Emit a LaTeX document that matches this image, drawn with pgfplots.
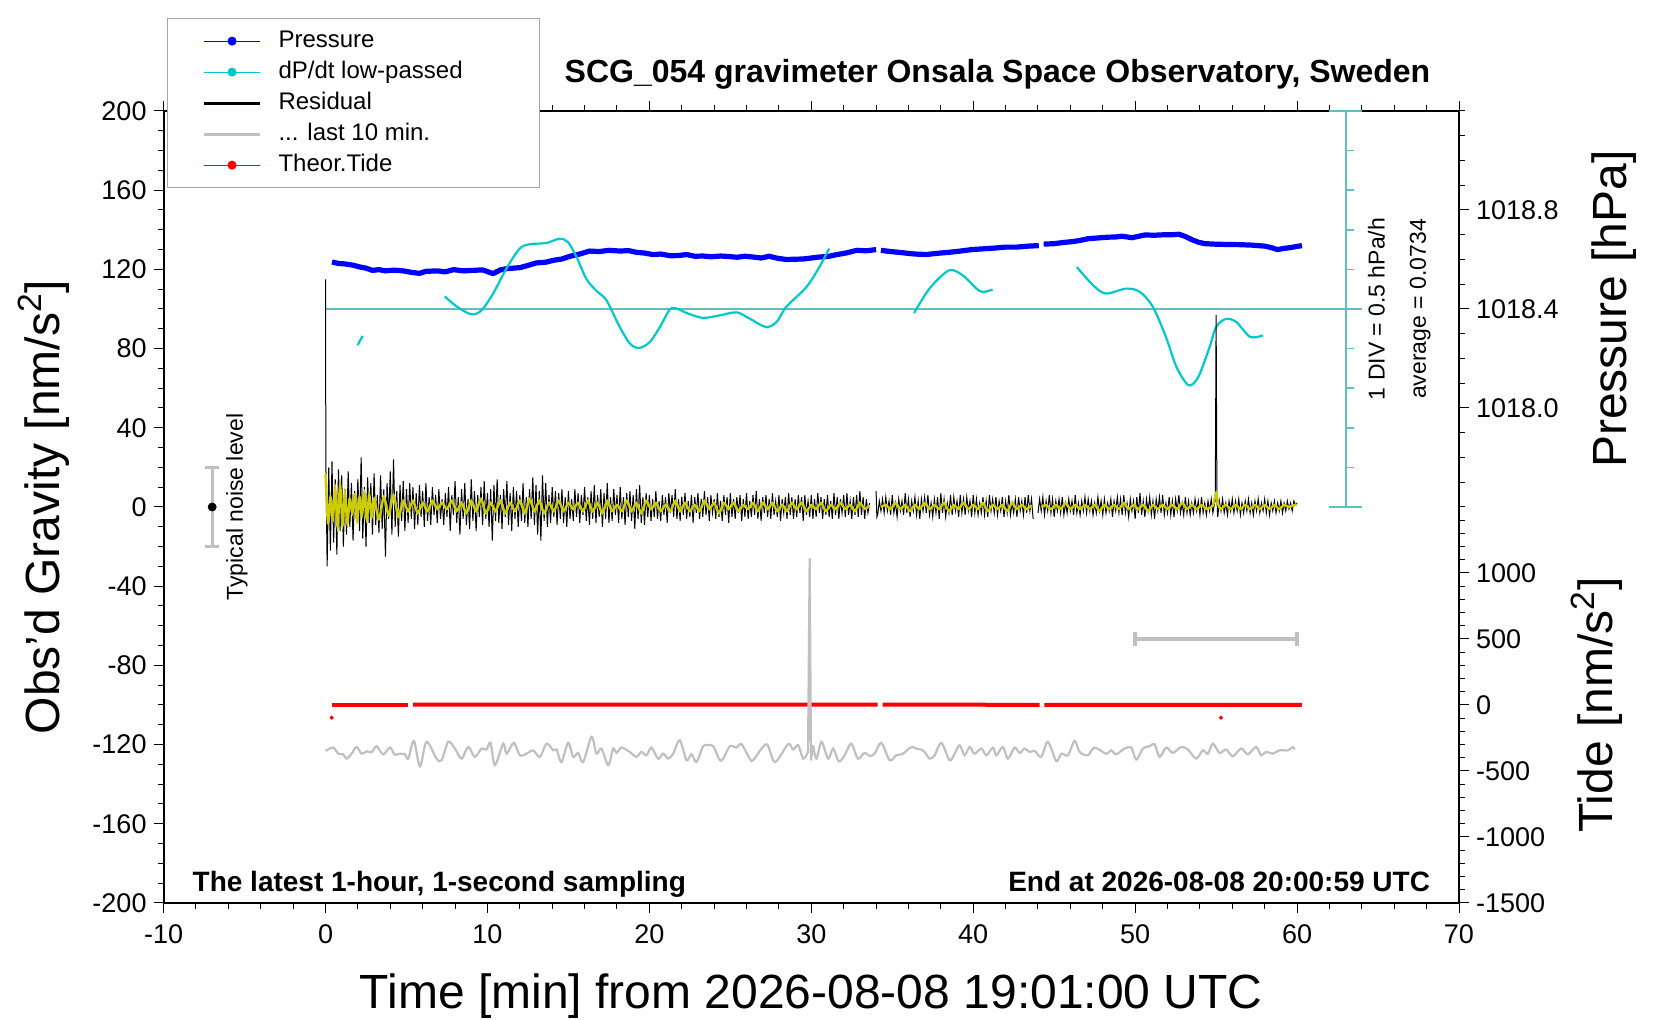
\documentclass[border=0pt]{standalone}
\usepackage{fontspec}
\setmainfont{Liberation Sans}
\usepackage{pgfplots}
\pgfplotsset{compat=1.18}
\definecolor{cyanc}{RGB}{0,200,200}
\definecolor{cyanaxis}{RGB}{100,190,190}
\definecolor{yel}{RGB}{204,204,0}
\definecolor{greyc}{RGB}{192,192,192}
\pgfplotsset{
  base/.style={
    scale only axis, width=647.7pt, height=396pt, at={(0,0)}, anchor=south west,
    xmin=-10, xmax=70,
    tick align=outside, major tick length=5pt, minor tick length=3pt,
    every tick/.append style={black, line width=0.5pt},
    axis line style={line width=1pt},
    /pgf/number format/assume math mode=true,
    tick label style={font=\fontsize{13.5}{16}\selectfont},
  }
}
\begin{document}
\begin{tikzpicture}
\useasboundingbox (-81.8pt,-58.5pt) rectangle (748.2pt,451.5pt);

% ---------- pressure axis (right, upper half) ----------
\begin{axis}[base, ymin=1016.0, ymax=1019.2, axis x line=none, axis y line*=right,
  ytick={1018.0,1018.4,1018.8},
  minor ytick={1017.6,1017.7,1017.8,1017.9,1018.1,1018.2,1018.3,1018.5,1018.6,1018.7,1018.9,1019.0,1019.1,1019.2},
  y tick label style={/pgf/number format/.cd, fixed, fixed zerofill, precision=1, 1000 sep={}}]
\addplot[blue, line width=2.6pt, line join=round] coordinates {
(0.4,1018.590)(0.8,1018.584)(1.2,1018.582)(1.7,1018.577)(2.1,1018.570)(2.5,1018.565)(2.9,1018.556)(3.3,1018.559)(3.7,1018.554)(4.2,1018.557)
(4.8,1018.554)(5.3,1018.548)(5.8,1018.544)(6.2,1018.552)(6.9,1018.554)(7.4,1018.550)(7.9,1018.559)(8.5,1018.554)(9.1,1018.556)(9.7,1018.558)
(10.35,1018.543)(10.8,1018.558)(11.2,1018.563)(12.0,1018.567)(12.5,1018.576)(13.0,1018.586)(13.6,1018.589)(14.1,1018.597)(14.6,1018.602)(15.1,1018.613)
(15.7,1018.622)(16.3,1018.634)(16.9,1018.632)(17.5,1018.637)(18.2,1018.634)(18.7,1018.636)(19.2,1018.629)(19.7,1018.626)(20.2,1018.620)(20.7,1018.622)
(21.3,1018.615)(21.8,1018.616)(22.3,1018.620)(22.8,1018.613)(23.3,1018.614)(23.8,1018.611)(24.4,1018.614)(24.9,1018.612)(25.4,1018.609)(25.9,1018.613)
(26.4,1018.610)(26.9,1018.606)(27.4,1018.613)(27.9,1018.605)(28.45,1018.600)(29.0,1018.601)(29.5,1018.602)(30.0,1018.606)(30.5,1018.610)(31.0,1018.612)
(31.6,1018.620)(32.2,1018.627)(32.8,1018.637)(33.4,1018.635)(34.0,1018.640)};
\addplot[blue, line width=2.6pt, line join=round] coordinates {
(34.3,1018.637)(34.9,1018.632)(35.4,1018.629)(35.8,1018.626)(36.4,1018.622)(37.1,1018.620)(37.8,1018.625)(38.5,1018.629)(39.2,1018.634)(39.9,1018.640)
(40.6,1018.643)(41.3,1018.646)(42.0,1018.650)(42.7,1018.650)(43.4,1018.654)(44.05,1018.656)};
\addplot[blue, line width=2.6pt, line join=round] coordinates {
(44.35,1018.662)(45.0,1018.664)(45.6,1018.669)(46.1,1018.672)(46.6,1018.677)(47.1,1018.684)(47.7,1018.687)(48.3,1018.690)(48.8,1018.691)(49.2,1018.694)
(49.8,1018.688)(50.6,1018.699)(51.2,1018.698)(51.8,1018.700)(52.3,1018.700)(52.7,1018.702)(53.1,1018.693)(53.5,1018.680)(53.9,1018.670)(54.3,1018.664)
(54.9,1018.662)(55.5,1018.661)(56.4,1018.660)(57.2,1018.658)(58.0,1018.654)(58.4,1018.648)(58.8,1018.640)(59.2,1018.645)(59.6,1018.648)(60.0,1018.653)(60.3,1018.656)};
\end{axis}

% ---------- tide axis (right, lower half) ----------
\begin{axis}[base, ymin=-1500, ymax=4500, axis x line=none, axis y line*=right,
  ytick={-1500,-1000,-500,0,500,1000},
  minor ytick={-1400,-1300,...,1500},
  y tick label style={/pgf/number format/1000 sep={}}]
\addplot[red, line width=2pt] coordinates {(0.38,3)(2.5,3)(5.1,3)};
\addplot[red, line width=2pt] coordinates {(5.4,3)(15,3)(25,2)(34.1,2)};
\addplot[red, line width=2pt] coordinates {(34.4,2)(40,2)(44.1,1)};
\addplot[red, line width=2pt] coordinates {(44.4,1)(52,1)(60.3,0)};
\addplot[red, only marks, mark=*, mark size=0.8pt] coordinates {(0.38,-96)(55.3,-96)};
\addplot[greyc, line width=2pt, mark=|, mark size=3.5pt, mark options={line width=2pt}] coordinates {(50,500)(60,500)};
\end{axis}

% ---------- main gravity axis ----------
\begin{axis}[base, ymin=-200, ymax=200, clip=false,
  xtick={-10,0,...,70}, minor x tick num=4,
  ytick={-200,-160,...,200}, minor y tick num=3,
  xtick pos=both, xticklabel pos=bottom, ytick pos=left,
  x tick label style={yshift=-2.5pt},
  legend cell align=left,
  legend image code/.code={\draw[mark repeat=2,mark phase=2,#1] plot coordinates {(0pt,0pt) (14pt,0pt) (28pt,0pt)};},
  legend style={at={(axis description cs:0.0026,1.1174)}, anchor=north west,
    draw=gray!70, line width=0.6pt, fill=white,
    font=\fontsize{12}{14}\selectfont,
    inner xsep=17.5pt, inner ysep=3.5pt, row sep=0pt,
    nodes={inner sep=2.5pt, text height=8.3pt, text depth=2.2pt},
    /tikz/every odd column/.append style={column sep=6pt}},
]
% dP/dt scale
\addplot[cyanaxis, line width=1pt, forget plot] coordinates {(63,0)(63,200)};
\addplot[cyanaxis, line width=1pt, forget plot] coordinates {(0,100)(64,100)};
\addplot[cyanaxis, line width=1pt, forget plot] coordinates {(62,200)(64,200)};
\addplot[cyanaxis, line width=1pt, forget plot] coordinates {(62,0)(64,0)};
\addplot[cyanaxis, only marks, mark=-, mark size=2pt, mark options={line width=0.8pt}, forget plot] coordinates {
(63.25,20)(63.25,40)(63.25,60)(63.25,80)(63.25,120)(63.25,140)(63.25,160)(63.25,180)};
% dP/dt low-passed
\addplot[cyanc, line width=1.1pt, smooth, forget plot] coordinates {(1.98,81.7)(2.29,86.4)};
\addplot[cyanc, line width=1.1pt, smooth, forget plot] coordinates {
(7.36,106.4)(8.08,101.4)(9.0,97.3)(9.63,99.3)(10.35,107.8)(11.17,120.4)(11.99,130.5)(12.6,132.7)(13.63,133.3)(14.45,135.5)
(14.97,133.8)(15.5,126.3)(16.1,115.3)(16.7,109.4)(17.35,104.4)(18.17,90.9)(18.8,82.5)(19.37,80.3)(20.03,83.3)(20.65,90.9)
(21.26,99.7)(21.7,100.2)(22.3,98)(23.3,95.5)(24.35,96.8)(25.4,98.3)(26.2,95.1)(27.2,90.9)(27.85,93.4)(28.45,101)
(29.7,111.1)(30.5,121.2)(31.1,130.5)};
\addplot[cyanc, line width=1.1pt, smooth, forget plot] coordinates {
(36.35,98)(37.3,110.3)(38.5,119.5)(39.35,117)(40.2,110.3)(40.6,108.6)(41.2,109.8)};
\addplot[cyanc, line width=1.1pt, smooth, forget plot] coordinates {
(46.4,121.2)(47.4,112)(48.2,107.8)(49.45,110.3)(50.3,108.6)(51.1,101)(51.9,85.9)(52.55,70.7)(53.3,61.5)(53.9,65.7)
(54.6,80.8)(55.0,90.9)(55.6,95)(56.25,93.4)(57.1,85.9)(57.9,86.7)};
% last 10 min (grey)
\addplot[greyc, line width=1.1pt, smooth, forget plot] coordinates {
(0.0,-123.2)(0.48,-121.5)(0.79,-124.6)(1.09,-124.9)(1.30,-127.1)(1.61,-124.6)(1.92,-121.2)(2.23,-124.6)(2.54,-123.4)(2.84,-123.9)
(3.15,-120.8)(3.56,-124.9)(3.98,-121.5)(4.28,-125.1)(4.59,-124.6)(4.90,-124.9)(5.11,-127.1)(5.46,-118.1)(5.83,-130.9)(6.24,-118.6)
(6.86,-127.1)(7.17,-127.9)(7.58,-118.6)(7.99,-122.0)(8.40,-127.1)(8.81,-121.2)(9.22,-126.2)(9.64,-122.0)(9.94,-122.5)(10.19,-119.0)
(10.46,-130.4)(10.97,-119.5)(11.18,-124.6)(11.63,-119.1)(12.00,-125.4)(12.41,-124.6)(12.82,-122.9)(13.24,-126.2)(13.65,-119.5)(14.06,-122.9)
(14.27,-122.5)(14.57,-128.8)(14.99,-119.1)(15.29,-126.2)(15.60,-124.2)(15.91,-128.8)(16.43,-116.1)(16.73,-124.6)(17.04,-122.0)(17.46,-130.4)
(17.76,-122.0)(17.97,-124.2)(18.28,-121.5)(18.79,-123.7)(19.20,-126.2)(19.51,-123.7)(19.82,-125.4)(20.13,-121.5)(20.54,-127.1)(20.85,-124.6)
(21.16,-127.1)(21.47,-124.6)(21.88,-117.8)(22.29,-127.9)(22.60,-124.9)(22.91,-128.8)(23.32,-120.8)(23.63,-120.3)(23.94,-120.8)(24.35,-127.9)
(24.56,-127.1)(24.97,-120.8)(25.38,-121.5)(25.69,-119.8)(26.20,-127.1)(26.41,-127.9)(27.23,-119.8)(27.75,-128.8)(28.57,-119.8)(28.88,-122.5)
(29.19,-120.3)(29.50,-127.1)(29.80,-123.7)};
\addplot[greyc, line width=1.1pt, forget plot] coordinates {(29.80,-123.7)(29.9,-26)(29.98,-128)(30.11,-120.3)};
\addplot[greyc, line width=1.1pt, smooth, forget plot] coordinates {
(30.11,-120.3)(30.32,-127.1)(30.63,-118.6)(31.04,-127.1)(31.35,-122.0)(31.70,-128.5)(32.06,-125.4)(32.47,-119.5)(32.88,-127.1)(33.29,-124.2)
(33.60,-125.8)(33.91,-124.6)(34.32,-119.1)(34.84,-127.9)(35.25,-125.4)(35.66,-124.6)(36.17,-121.2)(36.48,-122.0)(36.79,-122.5)(37.00,-123.7)
(37.31,-127.1)(37.62,-125.4)(38.03,-119.1)(38.54,-127.9)(38.85,-124.6)(39.16,-120.3)(39.47,-125.4)(39.78,-121.2)(40.08,-124.6)(40.50,-122.0)
(40.81,-125.4)(41.22,-121.5)(41.42,-125.4)(41.83,-121.2)(42.14,-127.1)(42.55,-121.5)(42.86,-124.2)(43.17,-122.0)(43.48,-123.7)(43.79,-123.2)
(44.20,-126.2)(44.61,-118.6)(45.13,-128.3)(45.44,-124.6)(45.85,-125.4)(46.26,-118.1)(46.57,-123.7)(47.08,-125.4)(47.49,-121.5)(48.21,-124.6)
(48.52,-122.9)(48.83,-124.9)(49.35,-122.0)(49.76,-121.5)(50.07,-127.6)(50.48,-122.0)(50.89,-120.8)(51.20,-119.8)(51.51,-126.2)(51.92,-121.5)
(52.33,-124.2)(52.84,-121.2)(53.26,-122.5)(53.77,-127.1)(54.18,-122.9)(54.49,-124.6)(54.80,-119.5)(55.21,-124.2)(55.62,-122.5)(56.03,-125.9)
(56.55,-122.0)(56.96,-124.9)(57.47,-121.2)(57.78,-125.4)(58.09,-123.7)(58.50,-124.6)(58.91,-122.9)(59.43,-122.9)(59.74,-121.2)(59.84,-122.5)};
% residual (black)
\addplot[black, line width=0.5pt, forget plot] coordinates {
(0,115)(0.02,24)(0.1,-30)(0.2,20)(0.3,-22)(0.4,23)(0.5,-18)(0.6,14)(0.7,-24)(0.8,19)(0.9,-12)
(1.0,16)(1.1,-20)(1.2,9)(1.3,-14)(1.4,18)(1.5,-10)(1.6,12)(1.7,-17)(1.8,8)(1.9,-6)
(2.0,14)(2.1,-12)(2.2,25)(2.3,-16)(2.4,10)(2.5,-20)(2.6,15)(2.7,-8)(2.8,12)(2.9,-14)
(3.0,17)(3.1,-9)(3.2,6)(3.3,-13)(3.4,16)(3.5,-11)(3.6,9)(3.7,-25)(3.8,12)(3.9,-6)
(4.0,18)(4.1,-14)(4.2,24)(4.3,-10)(4.4,8)(4.5,-15)(4.6,11)(4.7,-7)(4.8,13)(4.9,-12)
(5.0,9)(5.1,-8)(5.2,12)(5.3,-6)(5.4,10)(5.5,-11)(5.6,7)(5.7,-9)(5.8,11)(5.9,-5)
(6.0,8)(6.1,-10)(6.2,12)(6.3,-7)(6.4,5)(6.5,-9)(6.6,10)(6.7,-4)(6.8,6)(6.9,-8)
(7.0,9)(7.1,-6)(7.2,4)(7.3,-9)(7.4,7)(7.5,-5)(7.6,10)(7.7,-12)(7.8,6)(7.9,-4)
(8.0,13)(8.1,-8)(8.2,5)(8.3,-14)(8.4,9)(8.5,-6)(8.6,12)(8.7,-9)(8.8,4)(8.9,-11)
(9.0,14)(9.1,-7)(9.2,8)(9.3,-12)(9.4,6)(9.5,-5)(9.6,10)(9.7,-9)(9.8,13)(9.9,-6)
(10.0,7)(10.1,-10)(10.2,9)(10.3,-17)(10.4,11)(10.5,-7)(10.6,14)(10.7,-8)(10.8,6)(10.9,-11)
(11.0,9)(11.1,-5)(11.2,13)(11.3,-9)(11.4,7)(11.5,-12)(11.6,10)(11.7,-6)(11.8,8)(11.9,-10)
(12.0,6)(12.1,-7)(12.2,12)(12.3,-8)(12.4,5)(12.5,-10)(12.6,9)(12.7,-6)(12.8,15)(12.9,-9)
(13.0,11)(13.1,-14)(13.2,8)(13.3,-17)(13.4,16)(13.5,-7)(13.6,12)(13.7,-10)(13.8,6)(13.9,-8)
(14.0,10)(14.1,-5)(14.2,8)(14.3,-9)(14.4,7)(14.5,-6)(14.6,9)(14.7,-8)(14.8,5)(14.9,-10)
(15.0,8)(15.1,-6)(15.2,4)(15.3,-7)(15.4,9)(15.5,-5)(15.6,7)(15.7,-8)(15.8,6)(15.9,-4)
(16.0,10)(16.1,-7)(16.2,5)(16.3,-9)(16.4,8)(16.5,-6)(16.6,11)(16.7,-8)(16.8,6)(16.9,-5)
(17.0,9)(17.1,-10)(17.2,7)(17.3,-6)(17.4,12)(17.5,-8)(17.6,5)(17.7,-7)(17.8,9)(17.9,-4)
(18.0,6)(18.1,-8)(18.2,10)(18.3,-6)(18.4,5)(18.5,-9)(18.6,7)(18.7,-5)(18.8,8)(18.9,-7)
(19.0,6)(19.1,-11)(19.2,9)(19.3,-6)(19.4,11)(19.5,-8)(19.6,5)(19.7,-9)(19.8,7)(19.9,-5)
(20.0,6)(20.1,-7)(20.2,4)(20.3,-5)(20.4,8)(20.5,-6)(20.6,3)(20.7,-7)(20.8,6)(20.9,-4)
(21.0,5)(21.1,-8)(21.2,7)(21.3,-3)(21.4,6)(21.5,-5)(21.6,9)(21.7,-6)(21.8,4)(21.9,-7)
(22.0,5)(22.1,-4)(22.2,7)(22.3,-6)(22.4,3)(22.5,-5)(22.6,6)(22.7,-8)(22.8,5)(22.9,-3)
(23.0,7)(23.1,-6)(23.2,4)(23.3,-5)(23.4,8)(23.5,-4)(23.6,5)(23.7,-7)(23.8,6)(23.9,-3)
(24.0,4)(24.1,-6)(24.2,7)(24.3,-5)(24.4,3)(24.5,-7)(24.6,6)(24.7,-4)(24.8,5)(24.9,-8)
(25.0,7)(25.1,-5)(25.2,4)(25.3,-6)(25.4,5)(25.5,-3)(25.6,6)(25.7,-7)(25.8,4)(25.9,-5)
(26.0,7)(26.1,-6)(26.2,3)(26.3,-5)(26.4,6)(26.5,-4)(26.6,8)(26.7,-6)(26.8,4)(26.9,-7)
(27.0,5)(27.1,-3)(27.2,6)(27.3,-5)(27.4,4)(27.5,-6)(27.6,7)(27.7,-4)(27.8,3)(27.9,-5)
(28.0,6)(28.1,-7)(28.2,4)(28.3,-3)(28.4,5)(28.5,-6)(28.6,7)(28.7,-4)(28.8,5)(28.9,-6)
(29.0,4)(29.1,-5)(29.2,6)(29.3,-3)(29.4,5)(29.5,-7)(29.6,6)(29.7,-4)(29.8,3)(29.9,-5)
(30.0,6)(30.1,-6)(30.2,4)(30.3,-5)(30.4,7)(30.5,-3)(30.6,5)(30.7,-6)(30.8,4)(30.9,-4)
(31.0,6)(31.1,-5)(31.2,3)(31.3,-6)(31.4,7)(31.5,-4)(31.6,5)(31.7,-6)(31.8,4)(31.9,-3)
(32.0,6)(32.1,-5)(32.2,7)(32.3,-4)(32.4,3)(32.5,-6)(32.6,5)(32.7,-4)(32.8,6)(32.9,-5)
(33.0,8)(33.1,-4)(33.2,5)(33.3,-6)(33.4,4)(33.5,-3)(33.6,2)};
\addplot[black, line width=0.5pt, forget plot] coordinates {
(34.0,8)(34.05,-5)(34.1,-4)(34.2,3)(34.3,-2)(34.4,4)(34.5,-3)(34.6,5)(34.7,-2)(34.8,3)(34.9,-4)
(35.0,6)(35.1,-3)(35.2,2)(35.3,-5)(35.4,4)(35.5,-2)(35.6,3)(35.7,-4)(35.8,7)(35.9,-3)
(36.0,4)(36.1,-5)(36.2,3)(36.3,-2)(36.4,5)(36.5,-4)(36.6,3)(36.7,-6)(36.8,4)(36.9,-2)
(37.0,5)(37.1,-3)(37.2,6)(37.3,-4)(37.4,2)(37.5,-5)(37.6,4)(37.7,-3)(37.8,5)(37.9,-6)
(38.0,7)(38.1,-3)(38.2,4)(38.3,-5)(38.4,2)(38.5,-3)(38.6,6)(38.7,-4)(38.8,5)(38.9,-2)
(39.0,3)(39.1,-5)(39.2,6)(39.3,-3)(39.4,4)(39.5,-4)(39.6,5)(39.7,-2)(39.8,3)(39.9,-5)
(40.0,6)(40.1,-3)(40.2,4)(40.3,-4)(40.4,2)(40.5,-3)(40.6,5)(40.7,-4)(40.8,3)(40.9,-5)
(41.0,6)(41.1,-2)(41.2,4)(41.3,-3)(41.4,5)(41.5,-4)(41.6,3)(41.7,-2)(41.8,5)(41.9,-5)
(42.0,3)(42.1,-3)(42.2,6)(42.3,-4)(42.4,2)(42.5,-3)(42.6,4)(42.7,-5)(42.8,5)(42.9,-2)
(43.0,3)(43.1,-4)(43.2,5)(43.3,-3)(43.4,6)(43.5,-2)(43.6,4)(43.7,-6)};
\addplot[black, line width=0.5pt, forget plot] coordinates {
(44.0,-3)(44.1,4)(44.2,-2)(44.3,5)(44.4,-4)(44.5,3)(44.6,-2)(44.7,6)(44.8,-3)(44.9,4)
(45.0,-5)(45.1,3)(45.2,-2)(45.3,4)(45.4,-3)(45.5,5)(45.6,-4)(45.7,2)(45.8,-3)(45.9,4)
(46.0,-2)(46.1,3)(46.2,-4)(46.3,6)(46.4,-3)(46.5,2)(46.6,-4)(46.7,3)(46.8,-2)(46.9,5)
(47.0,-3)(47.1,4)(47.2,-2)(47.3,3)(47.4,-4)(47.5,2)(47.6,-3)(47.7,5)(47.8,-2)(47.9,3)
(48.0,-4)(48.1,4)(48.2,-3)(48.3,2)(48.4,-2)(48.5,4)(48.6,-5)(48.7,3)(48.8,-2)(48.9,5)
(49.0,-3)(49.1,4)(49.2,-4)(49.3,6)(49.4,-3)(49.5,2)(49.6,-5)(49.7,4)(49.8,-2)(49.9,3)
(50.0,-6)(50.1,5)(50.2,-3)(50.3,7)(50.4,-4)(50.5,3)(50.6,-5)(50.7,4)(50.8,-2)(50.9,5)
(51.0,-4)(51.1,3)(51.2,-6)(51.3,4)(51.4,-2)(51.5,5)(51.6,-3)(51.7,6)(51.8,-4)(51.9,2)
(52.0,-3)(52.1,5)(52.2,-4)(52.3,3)(52.4,-5)(52.5,4)(52.6,-2)(52.7,6)(52.8,-3)(52.9,2)
(53.0,-4)(53.1,5)(53.2,-3)(53.3,3)(53.4,-4)(53.5,2)(53.6,-3)(53.7,4)(53.8,-2)(53.9,3)
(54.0,-4)(54.1,5)(54.2,-3)(54.3,2)(54.4,-4)(54.5,3)(54.6,-2)(54.7,4)(54.8,-3)(54.9,2)
(54.95,3)(55.0,97)(55.05,4)(55.1,-5)(55.2,3)(55.3,-2)(55.4,4)(55.5,-3)(55.6,2)(55.7,-4)(55.8,3)(55.9,-2)
(56.0,4)(56.1,-3)(56.2,3)(56.3,-2)(56.4,4)(56.5,-4)(56.6,2)(56.7,-3)(56.8,3)(56.9,-2)
(57.0,4)(57.1,-3)(57.2,2)(57.3,-4)(57.4,3)(57.5,-2)(57.6,4)(57.7,-3)(57.8,2)(57.9,-2)
(58.0,4)(58.1,-3)(58.2,3)(58.3,-4)(58.4,2)(58.5,-2)(58.6,3)(58.7,-3)(58.8,2)(58.9,-2)
(59.0,3)(59.1,-3)(59.2,2)(59.3,-2)(59.4,3)(59.5,-1)(59.6,2)(59.7,-2)(59.8,3)(59.9,1)(60.0,2)};
% low-passed residual (yellow)
\addplot[yel, line width=1.2pt, smooth, forget plot] coordinates {
(0,17)(0.15,-8)(0.3,5)(0.45,-6)(0.6,9)(0.75,-10)(0.9,11)(1.05,-9)(1.2,7)(1.35,-8)(1.5,4)(1.65,-3)(1.8,6)(1.95,-7)(2.1,5)(2.25,-4)(2.4,7)(2.55,-6)(2.7,6)(2.85,-5)(3.0,4)
(3.3,-6)(3.6,5)(3.9,-4)(4.2,6)(4.5,-5)(4.8,3)(5.1,-2)(5.4,3)(5.7,-3)(6.0,2)(6.3,-2)(6.6,3)(6.9,-1)(7.2,2)(7.5,-1)(7.8,3)(8.1,-2)(8.4,2)(8.7,-3)(9.0,3)
(9.3,-2)(9.6,4)(9.9,-3)(10.2,2)(10.5,-2)(10.8,3)(11.1,-3)(11.4,2)(11.7,-2)(12.0,3)(12.3,-3)(12.6,4)(12.9,-2)(13.2,3)(13.5,-3)(13.8,2)(14.1,-2)(14.4,3)(14.7,-2)(15.0,2)
(15.3,-1)(15.6,2)(15.9,-2)(16.2,3)(16.5,-2)(16.8,2)(17.1,-3)(17.4,3)(17.7,-2)(18.0,1)(18.3,-2)(18.6,3)(18.9,-2)(19.2,2)(19.5,-3)(19.8,3)(20.1,-1)(20.4,2)(20.7,-2)(21.0,1)
(21.3,-2)(21.6,3)(21.9,-2)(22.2,2)(22.5,-2)(22.8,1)(23.1,-2)(23.4,3)(23.7,-1)(24.0,2)(24.3,-3)(24.6,2)(24.9,-1)(25.2,2)(25.5,-2)(25.8,1)(26.1,-1)(26.4,2)(26.7,-2)(27.0,2)
(27.3,-1)(27.6,2)(27.9,-2)(28.2,1)(28.5,-2)(28.8,2)(29.1,-1)(29.4,2)(29.7,-2)(30.0,1)(30.3,-1)(30.6,2)(30.9,-2)(31.2,1)(31.5,-1)(31.8,2)(32.1,-1)(32.4,1)(32.7,-2)(33.0,2)
(33.3,-1)(33.6,1)};
\addplot[yel, line width=1.2pt, smooth, forget plot] coordinates {
(34.3,0)(34.6,1)(34.9,-1)(35.2,2)(35.5,-1)(35.8,1)(36.1,-2)(36.4,1)(36.7,-1)(37.0,2)(37.3,-1)(37.6,1)(37.9,-1)(38.2,2)(38.5,-2)(38.8,1)(39.1,-1)(39.4,2)(39.7,-1)(40.0,1)
(40.3,-1)(40.6,2)(40.9,-2)(41.2,1)(41.5,-1)(41.8,1)(42.1,-2)(42.4,2)(42.7,-1)(43.0,1)(43.3,-1)(43.6,1)};
\addplot[yel, line width=1.2pt, smooth, forget plot] coordinates {
(44.2,0)(44.5,1)(44.8,-1)(45.1,1)(45.4,-1)(45.7,2)(46.0,-1)(46.3,1)(46.6,-1)(46.9,1)(47.2,-1)(47.5,1)(47.8,-2)(48.1,1)(48.4,-1)(48.7,1)(49.0,-1)(49.3,2)(49.6,-1)(49.9,1)
(50.2,-1)(50.5,1)(50.8,-2)(51.1,1)(51.4,-1)(51.7,1)(52.0,-1)(52.3,1)(52.6,-1)(52.9,2)(53.2,-1)(53.5,1)(53.8,-1)(54.1,1)(54.4,-1)(54.7,0)(54.85,2)(55.0,7)(55.15,1)(55.3,-1)
(55.6,1)(55.9,-1)(56.2,1)(56.5,-1)(56.8,1)(57.1,-1)(57.4,1)(57.7,-1)(58.0,1)(58.3,-1)(58.6,1)(58.9,-1)(59.2,1)(59.5,0)(59.8,1)(60.0,1)};
% typical noise level
\addplot[black, only marks, mark=*, mark size=2pt, forget plot,
  error bars/.cd, y dir=both, y explicit,
  error bar style={greyc, line width=1.5pt},
  error mark options={rotate=90, greyc, mark size=3.5pt, line width=1.5pt}]
  coordinates {(-7,0) +- (0,20)};
% legend
\addlegendimage{blue, line width=0.5pt, mark=*, mark size=2pt}
\addlegendentry{Pressure}
\addlegendimage{cyanc, line width=0.5pt, mark=*, mark size=2pt}
\addlegendentry{dP/dt low-passed\hspace*{18.5pt}}
\addlegendimage{black, line width=1.5pt}
\addlegendentry{Residual}
\addlegendimage{greyc, line width=1.5pt}
\addlegendentry{... last 10 min.}
\addlegendimage{red, line width=0.5pt, mark=*, mark size=2pt}
\addlegendentry{Theor.Tide}
% texts
\node[anchor=base, font=\fontsize{16}{19}\selectfont\bfseries] at (axis cs:41.5,214.6) {SCG\_054 gravimeter Onsala Space Observatory, Sweden};
\node[anchor=base west, font=\fontsize{14}{17}\selectfont\bfseries] at (axis cs:-8.64,-194.4) {The latest 1-hour, 1-second sampling};
\node[anchor=base east, font=\fontsize{14}{17}\selectfont\bfseries] at (axis cs:68.65,-194.4) {End at 2026-08-08 20:00:59 UTC};
\node[rotate=90, anchor=center, font=\fontsize{11.5}{14}\selectfont] at (axis cs:64.9,100) {1 DIV = 0.5 hPa/h};
\node[rotate=90, anchor=center, font=\fontsize{11.5}{14}\selectfont] at (axis cs:67.6,100) {average = 0.0734};
\node[rotate=90, anchor=base, font=\fontsize{11.5}{14}\selectfont] at (axis cs:-5.1,0) {Typical noise level};
\node[rotate=90, anchor=base, font=\fontsize{24}{28}\selectfont] at (axis cs:-16.45,0) {Obs'd Gravity [nm/s\textsuperscript{2}]};
\node[rotate=90, anchor=base, font=\fontsize{24}{28}\selectfont] at (axis cs:80.35,100) {Pressure [hPa]};
\node[rotate=90, anchor=base, font=\fontsize{24}{28}\selectfont] at (axis cs:79.48,-100) {Tide [nm/s\textsuperscript{2}]};
\node[anchor=base, font=\fontsize{24}{28}\selectfont] at (axis cs:30,-253.5) {Time [min] from 2026-08-08 19:01:00 UTC};
\end{axis}
\end{tikzpicture}
\end{document}
